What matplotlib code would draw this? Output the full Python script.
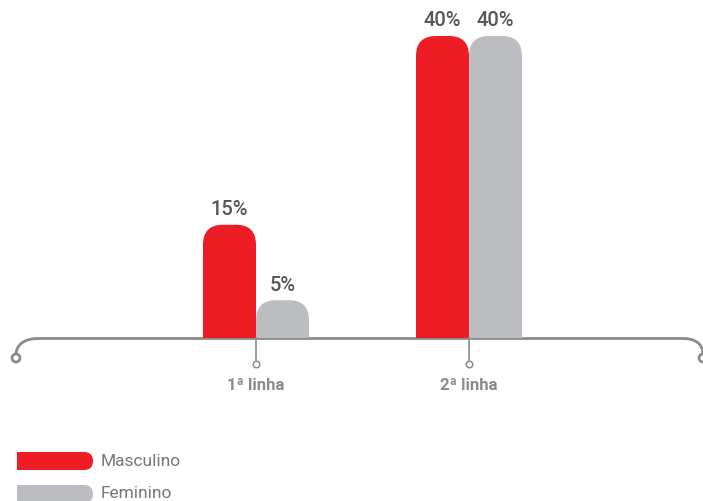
import matplotlib
matplotlib.use("Agg")
import matplotlib.pyplot as plt
from matplotlib.patches import FancyBboxPatch, Rectangle, Circle, PathPatch
from matplotlib.path import Path

plt.rcParams['font.family'] = ['Roboto', 'DejaVu Sans']

categories = ["1ª linha", "2ª linha"]
masculino = [15, 40]
feminino = [5, 40]
series_names = ["Masculino", "Feminino"]

RED = "#ee1c25"
GRAY = "#bcbdc1"
AXIS = "#8c8c8f"

W, H = 703, 501
fig = plt.figure(figsize=(W / 100, H / 100), dpi=100)

# decoration layer in pixel coordinates
deco = fig.add_axes([0, 0, 1, 1])
deco.set_xlim(0, W)
deco.set_ylim(H, 0)
deco.axis("off")

# main data axes: x in category units, y in percent
px_per_pct = 302 / 40
px_per_cat = 213
x0_px, y0_px = 256, 338
ax = fig.add_axes([0, 0, 1, 1], zorder=2)
ax.patch.set_alpha(0)
ax.set_xlim(-x0_px / px_per_cat, (W - x0_px) / px_per_cat)
ax.set_ylim(-(H - y0_px) / px_per_pct, y0_px / px_per_pct)
ax.axis("off")

# baseline with curled ends
verts = [(16, 355), (16, 345), (24, 338.5), (38, 338.5),
         (683, 338.5), (693, 338.5), (703, 342), (703, 355)]
codes = [Path.MOVETO, Path.CURVE4, Path.CURVE4, Path.CURVE4,
         Path.LINETO, Path.CURVE4, Path.CURVE4, Path.CURVE4]
deco.add_patch(PathPatch(Path(verts, codes), fill=False, edgecolor=AXIS, lw=2.0, capstyle="butt"))
deco.add_patch(Circle((16, 358), 4, facecolor="white", edgecolor=AXIS, lw=2.0))
deco.add_patch(Circle((703, 358), 4, facecolor="white", edgecolor=AXIS, lw=2.0))

bw = 53 / px_per_cat
r_px = 20
aspect = px_per_cat / px_per_pct
clip_box = Rectangle((-10, 0), 20, 100, transform=ax.transData)

def rounded_bar(xl, h, color):
    p = FancyBboxPatch((xl, -5), bw, h + 5,
                       boxstyle=f"round,pad=0,rounding_size={r_px / px_per_cat}",
                       mutation_aspect=aspect, facecolor=color, edgecolor="none")
    ax.add_patch(p)
    p.set_clip_path(clip_box)

for i, cat in enumerate(categories):
    rounded_bar(i - bw, masculino[i], RED)
    rounded_bar(i, feminino[i], GRAY)
    for xc, v in ((i - bw / 2, masculino[i]), (i + bw / 2, feminino[i])):
        ax.text(xc, v + 15 / px_per_pct, f"{v}%", ha="center", va="center",
                fontsize=14.5, fontweight="medium", color="#555559")
    # tick stem with open circle
    ax.plot([i, i], [0, -22 / px_per_pct], color=AXIS, lw=1.2, zorder=3)
    ax.scatter([i], [-26 / px_per_pct], s=22, facecolor="white", edgecolor=AXIS, lw=1.1, zorder=4)
    ax.text(i, -48 / px_per_pct, cat, ha="center", va="center",
            fontsize=12, fontweight="bold", color="#8a8a8d")

# legend
for k, (name, color) in enumerate(zip(series_names, [RED, GRAY])):
    yc = 461 + k * 33
    deco.add_patch(FancyBboxPatch((17, yc - 9), 76, 18, boxstyle="round,pad=0,rounding_size=9",
                                  facecolor=color, edgecolor="none"))
    deco.add_patch(Rectangle((17, yc - 9), 20, 18, facecolor=color, edgecolor="none"))
    deco.text(101, yc, name, ha="left", va="center", fontsize=12.5, color="#77777a")

fig.savefig("out.png", dpi=100)
